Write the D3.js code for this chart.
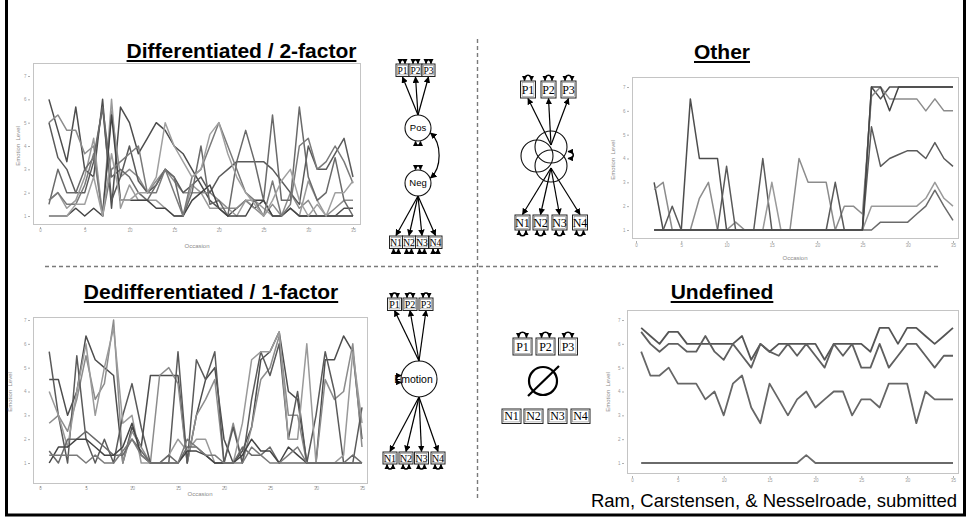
<!DOCTYPE html>
<html>
<head>
<meta charset="utf-8">
<script src="https://cdn.jsdelivr.net/npm/d3@7"></script>
<style>
  body { margin: 0; background: #fff; }
  svg { display: block; }
</style>
</head>
<body>
<svg id="fig" width="968" height="521"></svg>
<script>
// ---- data -------------------------------------------------------------
const occasions = d3.range(1, 36);
const xTickValues = [0, 5, 10, 15, 20, 25, 30, 35];
const yTickValues = [1, 2, 3, 4, 5, 6, 7];

const panelTitles = ["Differentiated / 2-factor", "Other", "Dedifferentiated / 1-factor", "Undefined"];
const xAxisLabel = "Occasion";
const yAxisLabel = "Emotion  Level";
const citation = "Ram, Carstensen, & Nesselroade, submitted";

const differentiatedSeries = [
  [6, 4.67, 3.33, 5.67, 3, 2.67, 6, 1.33, 5.67, 5, 3.67, 4.33, 5, 4.67, 4, 3.67, 3, 2.33, 1.67, 1.33, 1, 1.33, 1.67, 1.33, 1.67, 1, 1, 1.33, 1, 1, 1, 1, 1, 1.33, 1.33],
  [5, 5.33, 4.67, 4.67, 3.67, 4, 1, 5.5, 2.67, 3, 2.67, 2, 2.5, 3, 2.5, 2, 2, 2, 2, 1.67, 1.33, 1.33, 1.67, 1.33, 1, 1.5, 1, 2, 1.33, 1.67, 1, 1, 1.33, 1.67, 1.67],
  [5, 3.5, 3, 2, 2, 3.33, 5.67, 1.67, 2.67, 4, 2.5, 2, 2.33, 3, 2.67, 2, 2.33, 2.67, 2, 2.67, 3, 3.33, 3.33, 3.33, 3.33, 3, 2.5, 2, 1.5, 4, 3, 3, 3.67, 4.33, 2.67],
  [1.67, 2, 1.33, 1.67, 2.67, 4.33, 1, 6, 1.33, 2.33, 1.67, 1.67, 1.67, 1.33, 1, 1, 2.33, 2, 1.33, 1.33, 1.33, 1, 1.67, 1.67, 1.33, 1, 1, 1.33, 1, 2.5, 1.67, 1, 1, 1, 1],
  [1.5, 3, 2, 2, 3, 3.5, 5.67, 2.67, 3, 2.67, 2, 1.67, 2.33, 3, 2.67, 1, 2, 4, 1.5, 1.67, 1, 3.33, 4.67, 3.33, 1.67, 5.33, 1.67, 1.67, 5.67, 2.67, 1.67, 2, 3.5, 1.67, 1],
  [1, 1, 1, 1.33, 1, 1.33, 1, 5.33, 1.67, 1.67, 1.67, 1.67, 1.33, 1.33, 1, 1, 1.67, 2, 2.33, 1.33, 1, 1, 1, 1.67, 1.67, 1, 1, 1.33, 1, 1, 1, 1, 1, 1, 1],
  [1.67, 2, 1.5, 1.5, 2.33, 3.67, 1, 3, 3.33, 3.67, 4, 2, 2, 3, 2, 1, 2.67, 3, 4, 5, 4, 3, 2, 1.67, 1, 2.5, 1, 1.5, 4, 4.33, 3, 3.33, 4, 3.33, 2.4],
  [1, 1, 1, 1.5, 1.5, 2.67, 1, 3.67, 1.67, 1.67, 2, 2, 2.67, 5, 4, 3.33, 2.67, 3, 4.5, 5, 3.67, 2.67, 2, 1.5, 1, 1.67, 2.5, 3, 1.67, 1, 1.5, 1, 2, 2, 2.5]
];

// first occasion missing in this group
const otherSeries = [
  [null, 3, 1, 1, 1, 6.5, 4, 4, 4, 1, 1, 1, 1, 1, 1, 1, 1, 1, 1, 1, 1, 1, 1, 1, 1, 7, 6.5, 7, 7, 7, 7, 7, 7, 7, 7],
  [null, 2.7, 3, 1, 1, 1, 2.33, 3, 1, 1, 1.33, 1, 1, 1, 1, 1, 1, 4, 3, 3, 3, 1, 2, 2, 1.67, 6.6, 7, 6.5, 6.5, 6.5, 6.5, 6, 6.5, 6, 6],
  [null, 1, 1, 2, 1, 1, 1, 1, 1, 3.67, 1, 1, 1, 4, 1, 1, 1, 1, 1, 1, 1, 3, 1, 1, 1, 5.33, 3.67, 4, 4.17, 4.33, 4.33, 4, 4.67, 4, 3.67],
  [null, 1, 1, 1, 1, 1, 1, 1, 1, 1, 1, 1, 1, 1, 3, 1, 1, 1, 1, 1, 1, 1, 1, 1, 1, 2, 2, 2, 2, 2, 2, 2.33, 3, 2.33, 2],
  [null, 1, 1, 1, 1, 1, 1, 1, 1, 1, 1, 1, 1, 1, 1, 1, 1, 1, 1, 1, 1, 1, 1, 1, 1, 1, 1.33, 1.33, 1.33, 1.33, 1.67, 2, 2.67, 2, 1.4],
  [null, 1, 1, 1, 1, 1, 1, 1, 1, 1, 1, 1, 1, 1, 1, 1, 1, 1, 1, 1, 1, 1, 1, 1, 1, 7, 7, 6, 7, 7, 7, 7, 7, 7, 7]
];

const dedifferentiatedSeries = [
  [4.5, 4.5, 3, 4, 6.33, 5.33, 5, 4.67, 1, 2.5, 1.67, 4.67, 4.67, 4.67, 4.67, 1, 3, 4.5, 5, 2, 1, 1.5, 2.5, 5.33, 5.67, 6.5, 4, 3.67, 1, 1, 5.33, 5.33, 6.33, 5.67, 2],
  [2.67, 3, 2.33, 3.67, 5.5, 3.67, 4.33, 7, 1, 2.33, 1.67, 1, 4.67, 5, 4.33, 1, 3, 3.67, 4.5, 1, 2.67, 1, 2.5, 4.5, 5, 6.33, 3, 3, 1, 1, 4.5, 3.67, 4, 6, 1.67],
  [5.67, 3, 1, 5.5, 2, 1, 2, 1, 3, 4.33, 2.5, 1, 1, 1, 5.67, 1, 5.33, 4.5, 5.67, 1, 2.5, 1, 3.67, 5.67, 4.67, 6, 2, 4, 1, 3, 5.67, 4, 1, 1, 3.33],
  [4, 3, 1.67, 4, 6, 3, 5, 6.67, 2.67, 3, 1, 1, 1, 1.33, 2, 1.5, 2, 2, 1, 1, 1, 2.67, 5.33, 5.67, 5.67, 6.5, 2, 2, 6, 1, 1, 1, 1.33, 5.67, 2.67],
  [1.5, 1, 2, 2, 2.33, 2, 1.67, 1.33, 1.33, 2, 1.5, 1, 1, 1.33, 1, 1.67, 1.67, 1.33, 1, 1, 1, 1.67, 1.33, 1.33, 1.67, 1, 1, 1, 1, 1, 1, 1, 1, 1.33, 1],
  [1, 1.67, 1.67, 2, 2, 1.67, 1.33, 1.33, 1.67, 2.67, 1.33, 1, 1, 1, 1, 1.5, 1.5, 1.33, 1, 1, 1, 1.33, 2, 1.5, 1.5, 1, 1.67, 1.33, 1, 1, 1, 1, 1, 1, 1],
  [1.33, 1.33, 1.33, 1.33, 1, 1.33, 1, 1, 1.5, 2, 1.33, 1, 1, 1, 1, 2, 1.67, 1.33, 1.33, 1, 1, 1, 1.67, 1.33, 1, 1, 1.33, 1.67, 1, 1, 1, 1, 1, 1, 1]
];

const undefinedSeries = [
  [6.67, 6.33, 6, 6.5, 6.5, 6, 6, 6, 6, 6, 6, 6.33, 5.33, 6, 5.67, 6, 6, 6, 6, 6, 5.33, 6, 6, 6, 6, 5.67, 6.67, 6.67, 6, 6.67, 6.67, 6.33, 6, 6.33, 6.67],
  [6.5, 6, 5.67, 6, 6, 5.67, 5.67, 6.33, 5.67, 5.33, 6, 5.5, 5, 6, 5.67, 5.5, 6, 5.5, 6, 5.5, 5, 6, 5.5, 6, 5, 5, 6, 5, 5.5, 6, 6, 5.5, 5, 5.5, 5.5],
  [5.67, 4.67, 4.67, 5, 4.33, 4.33, 4.33, 3.67, 4, 3, 4.33, 4.67, 3.33, 2.67, 4.33, 3.67, 3, 3.67, 4, 3.33, 3.67, 4, 4, 3, 3.67, 3.67, 3.33, 4.33, 4.33, 4.33, 2.67, 4, 3.67, 3.67, 3.67],
  [1, 1, 1, 1, 1, 1, 1, 1, 1, 1, 1, 1, 1, 1, 1, 1, 1, 1, 1.33, 1, 1, 1, 1, 1, 1, 1, 1, 1, 1, 1, 1, 1, 1, 1, 1]
];

// ---- drawing ----------------------------------------------------------
const svg = d3.select("#fig");
const sans = "'Liberation Sans', Arial, Helvetica, sans-serif";
const serif = "'Liberation Serif', 'Times New Roman', serif";
const lineShades = ["#4d4d4d", "#8c8c8c", "#5a5a5a", "#9a9a9a", "#6a6a6a", "#444", "#7a7a7a", "#a0a0a0"];

const defs = svg.append("defs");
function addMarker(id, size) {
  defs.append("marker")
    .attr("id", id)
    .attr("viewBox", "0 0 10 10")
    .attr("refX", 9).attr("refY", 5)
    .attr("markerUnits", "userSpaceOnUse")
    .attr("markerWidth", size).attr("markerHeight", size)
    .attr("orient", "auto-start-reverse")
    .append("path").attr("d", "M0,0 L10,5 L0,10 z").attr("fill", "#000");
}
addMarker("arr", 6.5);
addMarker("arrSmall", 5.5);

// outer frame (open at the top)
svg.append("path")
  .attr("d", "M6.5,0 V515 H964.5 V0")
  .attr("fill", "none").attr("stroke", "#000").attr("stroke-width", 3);

// quadrant separators
svg.append("line")
  .attr("x1", 477.5).attr("x2", 477.5).attr("y1", 39).attr("y2", 500)
  .attr("stroke", "#7a7a7a").attr("stroke-width", 1.4).attr("stroke-dasharray", "4,3");
svg.append("line")
  .attr("x1", 45).attr("x2", 940).attr("y1", 266.5).attr("y2", 266.5)
  .attr("stroke", "#7a7a7a").attr("stroke-width", 1.4).attr("stroke-dasharray", "4,3");

// underlined bold titles
function title(text, cx, baseline) {
  const t = svg.append("text")
    .attr("x", cx).attr("y", baseline)
    .attr("text-anchor", "middle")
    .attr("font-family", sans).attr("font-weight", "bold").attr("font-size", 21)
    .attr("fill", "#000").text(text);
  const w = t.node().getComputedTextLength();
  svg.append("line")
    .attr("x1", cx - w / 2).attr("x2", cx + w / 2)
    .attr("y1", baseline + 3).attr("y2", baseline + 3)
    .attr("stroke", "#000").attr("stroke-width", 2);
}
title(panelTitles[0], 241.5, 58);
title(panelTitles[1], 722, 59);
title(panelTitles[2], 211, 299);
title(panelTitles[3], 722, 299);

// small-multiple time series panels
const layouts = [
  { frame: [33, 63, 360, 224], xr: [40, 353], yr: [216, 76], tickY: 231, occ: [197, 248], ylab: [20, 146] },
  { frame: [632, 77, 958, 238], xr: [636, 953], yr: [230, 87], tickY: 246, occ: [795, 260], ylab: [615, 160] },
  { frame: [33, 317, 367, 483], xr: [40, 362], yr: [463, 320], tickY: 489, occ: [200, 496], ylab: [12, 392] },
  { frame: [627, 310, 958, 473], xr: [632, 953], yr: [463, 320], tickY: 481, occ: null, ylab: [610, 392] }
];
const panelData = [differentiatedSeries, otherSeries, dedifferentiatedSeries, undefinedSeries];

layouts.forEach((L, k) => {
  const g = svg.append("g");
  const [l, t, r, b] = L.frame;
  const x = d3.scaleLinear().domain([0, 35]).range(L.xr);
  const y = d3.scaleLinear().domain([1, 7]).range(L.yr);

  g.append("rect")
    .attr("x", l + 0.5).attr("y", t + 0.5).attr("width", r - l).attr("height", b - t)
    .attr("fill", "none").attr("stroke", "#c4c4c4").attr("stroke-width", 1);

  const xa = g.append("g").attr("transform", `translate(0,${b + 3})`)
    .call(d3.axisBottom(x).tickValues(xTickValues).tickFormat(d3.format("d"))
      .tickSize(2).tickPadding(L.tickY - b - 7));
  const ya = g.append("g").attr("transform", `translate(${l - 3},0)`)
    .call(d3.axisLeft(y).tickValues(yTickValues).tickFormat(d3.format("d"))
      .tickSize(2).tickPadding(1.5));
  [xa, ya].forEach(a => {
    a.select(".domain").remove();
    a.selectAll("line").attr("stroke", "#b0b0b0");
    a.selectAll("text").attr("font-family", sans).attr("font-size", 4.5).attr("fill", "#9a9a9a");
  });

  if (L.occ) {
    g.append("text").attr("x", L.occ[0]).attr("y", L.occ[1])
      .attr("text-anchor", "middle").attr("font-family", sans).attr("font-size", 6)
      .attr("fill", "#8a8a8a").text(xAxisLabel);
  }
  g.append("text")
    .attr("transform", `translate(${L.ylab[0]},${L.ylab[1]}) rotate(-90)`)
    .attr("text-anchor", "middle").attr("font-family", sans).attr("font-size", 6)
    .attr("fill", "#8a8a8a").style("white-space", "pre").text(yAxisLabel);

  const line = d3.line()
    .defined(d => d != null)
    .x((d, i) => x(occasions[i]))
    .y(d => y(d));

  const clipId = "clip" + k;
  defs.append("clipPath").attr("id", clipId)
    .append("rect").attr("x", l).attr("y", t).attr("width", r - l).attr("height", b - t);

  g.append("g").attr("clip-path", `url(#${clipId})`)
    .selectAll("path").data(panelData[k]).join("path")
    .attr("d", line)
    .attr("fill", "none")
    .attr("stroke", (d, i) => k === 3 ? ["#555", "#5f5f5f", "#666", "#6a6a6a"][i] : lineShades[i % lineShades.length])
    .attr("stroke-width", k === 3 ? 1.8 : 1.5)
    .attr("stroke-linejoin", "round");
});

// ---- path diagrams ----------------------------------------------------
const dg = svg.append("g");

function box(cx, top, w, h, label, fs) {
  dg.append("rect").attr("x", cx - w / 2).attr("y", top).attr("width", w).attr("height", h)
    .attr("fill", "#fff").attr("stroke", "#222").attr("stroke-width", 1);
  dg.append("rect").attr("x", cx - w / 2 + 1.6).attr("y", top + 1.6).attr("width", w - 3.2).attr("height", h - 3.2)
    .attr("fill", "none").attr("stroke", "#888").attr("stroke-width", 0.6);
  dg.append("text").attr("x", cx).attr("y", top + h / 2 + fs * 0.35)
    .attr("text-anchor", "middle").attr("font-family", serif).attr("font-size", fs)
    .attr("fill", "#000").text(label);
}
function arrow(x1, y1, x2, y2) {
  dg.append("line").attr("x1", x1).attr("y1", y1).attr("x2", x2).attr("y2", y2)
    .attr("stroke", "#000").attr("stroke-width", 1.2).attr("marker-end", "url(#arr)");
}
// small self-loop: dir = -1 above, +1 below
function loopV(cx, yEdge, half, bulge, dir) {
  const yb = yEdge + dir * bulge;
  dg.append("path")
    .attr("d", `M${cx - half},${yEdge} C${cx - half},${yb} ${cx + half},${yb} ${cx + half},${yEdge}`)
    .attr("fill", "none").attr("stroke", "#000").attr("stroke-width", 1.6)
    .attr("marker-start", "url(#arrSmall)").attr("marker-end", "url(#arrSmall)");
}
// sideways self-loop: dir = -1 left, +1 right
function loopH(xEdge, cy, half, bulge, dir) {
  const xb = xEdge + dir * bulge;
  dg.append("path")
    .attr("d", `M${xEdge},${cy - half} C${xb},${cy - half} ${xb},${cy + half} ${xEdge},${cy + half}`)
    .attr("fill", "none").attr("stroke", "#000").attr("stroke-width", 1.6)
    .attr("marker-start", "url(#arrSmall)").attr("marker-end", "url(#arrSmall)");
}
function circle(cx, cy, r, label, fs) {
  dg.append("circle").attr("cx", cx).attr("cy", cy).attr("r", r)
    .attr("fill", "none").attr("stroke", "#111").attr("stroke-width", 1.1);
  if (label) {
    dg.append("text").attr("x", cx).attr("y", cy + fs * 0.35).attr("text-anchor", "middle")
      .attr("font-family", sans).attr("font-size", fs).attr("fill", "#000").text(label);
  }
}

const pLabels = ["P1", "P2", "P3"];
const nLabels = ["N1", "N2", "N3", "N4"];

// two-factor model
{
  const pc = [402.5, 415.5, 428.5], nc = [396, 409, 422, 435.5];
  pc.forEach(c => arrow(418, 115, c, 77));
  nc.forEach(c => arrow(418, 196, c, 235.5));
  pc.forEach((c, i) => { box(c, 64, 13, 12.5, pLabels[i], 9.5); loopV(c, 63.5, 2.5, 5, -1); });
  nc.forEach((c, i) => { box(c, 236, 13, 12.5, nLabels[i], 9.5); loopV(c, 249, 2.5, 5, 1); });
  dg.append("circle").attr("cx", 418).attr("cy", 128).attr("r", 13).attr("fill", "#fff");
  circle(418, 128, 13, "Pos", 9.5);
  circle(418, 183, 13, "Neg", 9.5);
  loopV(418, 141.5, 2.5, 5, 1);
  loopV(418, 169.5, 2.5, 5, -1);
  dg.append("path").attr("d", "M430.5,133 C442,143 442,168 430.5,178")
    .attr("fill", "none").attr("stroke", "#000").attr("stroke-width", 1.2)
    .attr("marker-start", "url(#arr)").attr("marker-end", "url(#arr)");
}

// overlapping-factor model
{
  const pc = [528, 548.5, 568.5], nc = [522.5, 540.5, 559.5, 580];
  pc.forEach(c => arrow(551, 145, c, 98.5));
  nc.forEach(c => arrow(551, 168, c, 214.5));
  pc.forEach((c, i) => { box(c, 81, 15, 17, pLabels[i], 12); loopV(c, 80.5, 3.5, 7, -1); });
  nc.forEach((c, i) => { box(c, 215, 15, 15, nLabels[i], 12); loopV(c, 230.5, 3.5, 7, 1); });
  circle(551, 147, 16);
  circle(537, 156, 16);
  circle(551, 166, 16);
  loopH(568, 155, 3.5, 7, 1);
}

// one-factor model
{
  const pc = [394.5, 410, 426], nc = [390, 406, 421.5, 438];
  pc.forEach(c => arrow(419, 361, c, 310.5));
  nc.forEach(c => arrow(419, 397, c, 451.5));
  pc.forEach((c, i) => { box(c, 298, 14, 12.5, pLabels[i], 10); loopV(c, 297.5, 3, 6, -1); });
  nc.forEach((c, i) => { box(c, 452, 14, 12, nLabels[i], 10); loopV(c, 464.5, 3, 6, 1); });
  circle(419, 379, 18);
  dg.append("text").attr("x", 413.5).attr("y", 382.5).attr("text-anchor", "middle")
    .attr("font-family", sans).attr("font-size", 10.5).attr("fill", "#000").text("Emotion");
  loopH(401, 379, 3.5, 6, -1);
}

// no model (empty set)
{
  const pc = [522.5, 545.5, 568], nc = [511.5, 533.5, 557.5, 580.5];
  pc.forEach((c, i) => { box(c, 338, 19, 17, pLabels[i], 12); loopV(c, 337.5, 4, 7, -1); });
  nc.forEach((c, i) => { box(c, 409, 19, 14.5, nLabels[i], 12); });
  dg.append("circle").attr("cx", 543).attr("cy", 381).attr("r", 14)
    .attr("fill", "none").attr("stroke", "#000").attr("stroke-width", 2.2);
  dg.append("line").attr("x1", 528).attr("y1", 396).attr("x2", 559).attr("y2", 366)
    .attr("stroke", "#000").attr("stroke-width", 2.2);
}

// attribution
svg.append("text").attr("x", 957).attr("y", 507).attr("text-anchor", "end")
  .attr("font-family", sans).attr("font-size", 18.5).attr("fill", "#000").text(citation);
</script>
</body>
</html>
